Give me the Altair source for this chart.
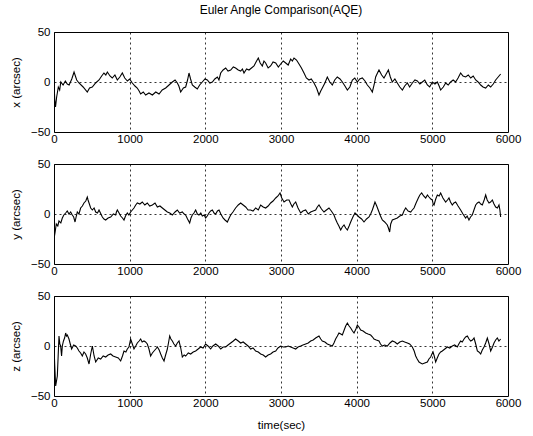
import altair as alt
import pandas as pd

title_text = "Euler Angle Comparison(AQE)"
x_ticks = [0, 1000, 2000, 3000, 4000, 5000, 6000]
y_ticks = [-50, 0, 50]
panel_names = ["x (arcsec)", "y (arcsec)", "z (arcsec)"]

x_samples = [
    (0, 0), (10, -18), (20, -25), (35, -15), (57, -5), (75, -8), (90, 0), (120, -3), (150, 1), (175, -2),
    (200, -3), (235, 3), (265, 10), (300, 2), (330, -1), (385, -5), (440, -10), (470, -6), (506, -5), (550, -1),
    (595, 2), (630, 6), (660, 9), (685, 7), (705, 10), (740, 6), (770, 4), (805, 7), (837, 2), (870, 5),
    (903, 9), (935, 4), (970, 1), (1000, 3), (1035, -1), (1070, -4), (1100, -6), (1125, -9), (1145, -12), (1180, -10),
    (1211, -13), (1255, -11), (1300, -13), (1345, -10), (1388, -12), (1430, -8), (1476, -6), (1520, -3), (1564, 0), (1600, 2),
    (1630, -1), (1650, -4), (1674, -10), (1710, -6), (1740, -5), (1765, 2), (1784, 9), (1805, 3), (1828, -3), (1860, -5),
    (1894, -7), (1925, -3), (1960, 0), (1995, 3), (2026, 2), (2060, -1), (2093, 0), (2125, 3), (2159, 5), (2180, 2),
    (2203, 9), (2235, 12), (2269, 14), (2300, 11), (2335, 12), (2370, 15), (2400, 14), (2435, 12), (2467, 11), (2490, 13),
    (2511, 9), (2545, 13), (2577, 12), (2610, 14), (2643, 16), (2670, 20), (2700, 24), (2725, 19), (2753, 16), (2775, 21),
    (2797, 19), (2830, 14), (2863, 16), (2895, 20), (2930, 19), (2965, 15), (2996, 18), (3030, 21), (3062, 19), (3095, 17),
    (3128, 23), (3150, 21), (3172, 24), (3205, 22), (3238, 18), (3270, 14), (3304, 9), (3335, 4), (3370, 2), (3400, 3),
    (3436, -1), (3470, -6), (3502, -13), (3525, -9), (3546, -6), (3580, -1), (3612, 5), (3645, 0), (3678, -3), (3710, 2),
    (3744, 5), (3780, 3), (3811, 0), (3845, -4), (3877, -8), (3910, -5), (3943, 2), (3975, 4), (4009, 0), (4040, 3),
    (4075, 4), (4110, 1), (4141, -3), (4175, -6), (4207, -10), (4230, -3), (4251, 5), (4275, 9), (4295, 12), (4330, 7),
    (4361, 4), (4390, 8), (4419, 12), (4445, 5), (4471, 0), (4505, 3), (4537, -1), (4570, -5), (4604, -8), (4635, -4),
    (4670, -1), (4700, -5), (4736, -1), (4770, 2), (4802, 1), (4835, -2), (4868, 0), (4900, 2), (4934, -3), (4965, -5),
    (5000, 0), (5035, -2), (5066, 0), (5090, -4), (5110, -8), (5145, -5), (5176, -1), (5210, -3), (5242, 0), (5275, 2),
    (5308, 0), (5340, 4), (5374, 9), (5405, 6), (5440, 5), (5475, 7), (5507, 4), (5540, 6), (5573, 2), (5605, 0),
    (5639, -3), (5670, -5), (5705, -6), (5740, -3), (5771, -5), (5805, -2), (5837, 2), (5870, 5), (5903, 8),
]

y_samples = [
    (0, -25), (15, -18), (30, -10), (50, -12), (66, -7), (90, -9), (110, -4), (130, -1), (154, 1), (175, 3),
    (198, 0), (220, 2), (242, -1), (260, -3), (278, -8), (295, -2), (308, 2), (330, 0), (352, 6), (375, 8),
    (396, 11), (420, 13), (440, 17), (450, 14), (463, 11), (485, 6), (507, 4), (530, 6), (551, 2), (575, 1),
    (595, 4), (620, 0), (639, -3), (660, -5), (683, -6), (715, -4), (749, -3), (785, 0), (815, -1), (825, 2),
    (837, 4), (860, 1), (881, -2), (905, -4), (925, -6), (945, -2), (969, 1), (990, -1), (1013, 2), (1035, 4),
    (1057, 6), (1080, 9), (1101, 11), (1135, 10), (1167, 12), (1200, 9), (1233, 11), (1265, 8), (1300, 9), (1335, 11),
    (1366, 7), (1400, 8), (1432, 6), (1465, 4), (1498, 2), (1530, 1), (1564, -1), (1600, 2), (1630, 4), (1660, 1),
    (1696, 2), (1720, 0), (1740, -1), (1765, -5), (1793, -9), (1810, -4), (1828, -1), (1850, 1), (1872, 4), (1895, 0),
    (1916, -1), (1940, 1), (1960, -2), (1985, -1), (2004, -4), (2025, -2), (2048, 1), (2070, 3), (2093, 4), (2115, 1),
    (2137, 0), (2160, 3), (2181, 4), (2205, 0), (2234, -4), (2260, -6), (2291, -8), (2315, -4), (2335, -1), (2365, 2),
    (2400, 6), (2435, 9), (2467, 11), (2500, 9), (2533, 7), (2565, 4), (2599, 4), (2630, 3), (2665, 6), (2700, 4),
    (2731, 9), (2765, 7), (2797, 6), (2830, 8), (2863, 11), (2895, 13), (2930, 16), (2960, 18), (2987, 21), (3010, 16),
    (3040, 12), (3075, 14), (3106, 14), (3130, 10), (3150, 7), (3170, 10), (3194, 12), (3225, 6), (3260, 1), (3290, 3),
    (3326, 4), (3360, 0), (3392, 2), (3425, 3), (3458, 4), (3480, 7), (3502, 9), (3535, 5), (3568, 2), (3600, 4),
    (3634, 6), (3665, 3), (3700, -1), (3720, -5), (3744, -9), (3765, -12), (3789, -16), (3810, -13), (3833, -11), (3855, -14),
    (3877, -16), (3900, -12), (3921, -8), (3950, -3), (3978, 1), (4005, -1), (4031, -3), (4065, -5), (4097, -8), (4130, -5),
    (4163, -3), (4185, 0), (4207, 4), (4225, 8), (4242, 12), (4265, 8), (4295, 2), (4315, -2), (4339, -6), (4370, -8),
    (4405, -11), (4420, -14), (4436, -18), (4450, -10), (4471, -6), (4505, -5), (4537, -4), (4570, -2), (4604, -1), (4625, 3),
    (4648, 6), (4680, 3), (4714, 2), (4735, 4), (4758, 6), (4785, 11), (4815, 16), (4835, 19), (4859, 21), (4885, 18),
    (4912, 16), (4935, 19), (4956, 17), (4980, 15), (5000, 14), (5011, 10), (5022, 9), (5045, 15), (5066, 19), (5090, 18),
    (5110, 21), (5140, 16), (5176, 12), (5200, 14), (5220, 16), (5240, 12), (5264, 9), (5285, 11), (5308, 12), (5340, 8),
    (5374, 4), (5405, 0), (5440, -4), (5460, -2), (5484, -6), (5505, -3), (5528, -1), (5550, 4), (5573, 9), (5595, 11),
    (5617, 12), (5640, 10), (5661, 9), (5685, 14), (5705, 19), (5725, 14), (5749, 11), (5770, 12), (5793, 14), (5815, 10),
    (5837, 7), (5860, 6), (5881, 9), (5893, 4), (5903, -3),
]

z_samples = [
    (0, 0), (10, -20), (22, -40), (33, -35), (44, -30), (55, -10), (66, 10), (77, 2), (88, 0), (100, -10),
    (110, 0), (125, 5), (140, 8), (154, 13), (165, 10), (176, 11), (187, 9), (198, 7), (215, 2), (233, -3),
    (260, 1), (286, 0), (308, -2), (330, -5), (352, -7), (374, -10), (396, -6), (418, -8), (440, -12), (463, -18),
    (485, -8), (507, 0), (530, -10), (551, -16), (585, -12), (617, -13), (650, -10), (683, -11), (715, -9), (749, -8),
    (780, -10), (815, -11), (850, -12), (881, -15), (905, -10), (925, -5), (950, -6), (969, -3), (990, -1), (1013, 7),
    (1035, 2), (1057, -3), (1080, 0), (1101, 3), (1125, 5), (1145, 7), (1165, 4), (1189, 5), (1210, 4), (1233, 2),
    (1255, -3), (1277, -10), (1300, -7), (1322, -5), (1345, -3), (1366, -1), (1390, -4), (1410, -8), (1432, -12), (1454, -15),
    (1475, -9), (1498, -3), (1515, 4), (1529, 10), (1545, 7), (1564, 5), (1585, 2), (1608, 0), (1630, 3), (1652, 5),
    (1675, -2), (1696, -11), (1720, -9), (1740, -10), (1775, -7), (1806, -8), (1840, -6), (1872, -5), (1905, -3), (1938, -1),
    (1970, -2), (2004, 2), (2035, 0), (2070, -3), (2100, 0), (2137, 2), (2170, 0), (2203, -3), (2235, -1), (2269, -1),
    (2300, 1), (2335, 3), (2370, 5), (2400, 7), (2435, 5), (2467, 3), (2500, 4), (2533, 2), (2565, 0), (2599, -3),
    (2630, -2), (2665, -5), (2700, -6), (2731, -8), (2765, -9), (2797, -11), (2830, -9), (2863, -8), (2895, -6), (2930, -5),
    (2960, -2), (2996, 0), (3030, -1), (3062, -1), (3095, 0), (3128, -1), (3160, -2), (3194, -3), (3225, -1), (3260, 0),
    (3290, 1), (3326, 2), (3360, 3), (3392, 5), (3425, 6), (3458, 8), (3480, 9), (3502, 10), (3525, 7), (3546, 5),
    (3580, 4), (3612, 2), (3645, 1), (3678, 0), (3700, 3), (3722, 7), (3745, 10), (3766, 13), (3790, 12), (3811, 11),
    (3835, 16), (3855, 20), (3877, 23), (3900, 20), (3921, 18), (3945, 15), (3965, 13), (3990, 17), (4009, 21), (4030, 19),
    (4053, 16), (4085, 15), (4119, 13), (4150, 12), (4185, 11), (4210, 9), (4229, 7), (4260, 6), (4295, 5), (4315, 2),
    (4339, 0), (4370, 1), (4405, 0), (4440, 3), (4471, 5), (4505, 4), (4537, 2), (4570, 4), (4604, 5), (4635, 4),
    (4670, 3), (4700, 2), (4736, -1), (4760, -5), (4780, -10), (4800, -13), (4824, -16), (4845, -17), (4868, -18), (4900, -17),
    (4934, -16), (4955, -13), (4978, -11), (4995, -8), (5009, -6), (5025, -10), (5044, -16), (5065, -12), (5088, -8), (5110, -6),
    (5132, -5), (5165, -3), (5198, -1), (5230, -2), (5264, 0), (5295, 1), (5330, -1), (5350, 2), (5374, 5), (5395, 4),
    (5419, 7), (5440, 9), (5463, 10), (5485, 7), (5507, 5), (5530, 6), (5551, 8), (5573, 2), (5595, -5), (5615, -6),
    (5639, -8), (5660, -4), (5683, -1), (5705, 3), (5727, 8), (5750, 2), (5771, -5), (5795, -1), (5815, 3), (5837, 6),
    (5859, 8), (5880, 5), (5903, 7),
]

FONT = "Liberation Sans"
W, H = 454, 100


def panel(samples, ytitle, show_xtitle=False, title=None):
    df = pd.DataFrame(samples, columns=["t", "v"])
    x_axis = alt.Axis(
        values=x_ticks, format="d", grid=True, gridDash=[2, 3], gridColor="black",
        gridOpacity=1, gridWidth=0.8, ticks=False, domain=False, labelPadding=1,
        labelFlush=False, title="time(sec)" if show_xtitle else None, titlePadding=11,
    )
    y_axis = alt.Axis(
        values=y_ticks, format="d", grid=True, gridDash=[2, 3], gridColor="black",
        gridOpacity=1, gridWidth=0.8, ticks=False, domain=False, labelPadding=4,
        labelFlush=False, title=ytitle, titlePadding=9,
    )
    ch = alt.Chart(df).mark_line(color="black", strokeWidth=1.1, clip=True).encode(
        x=alt.X("t:Q", scale=alt.Scale(domain=[0, 6000], nice=False, zero=False), axis=x_axis),
        y=alt.Y("v:Q", scale=alt.Scale(domain=[-50, 50], nice=False), axis=y_axis),
    )
    props = dict(width=W, height=H)
    if title:
        props["title"] = alt.TitleParams(title, fontSize=12, fontWeight="normal", font=FONT,
                                         anchor="middle", frame="group", offset=9, color="black")
    return ch.properties(**props)


chart = alt.vconcat(
    panel(x_samples, panel_names[0], title=title_text),
    panel(y_samples, panel_names[1]),
    panel(z_samples, panel_names[2], show_xtitle=True),
    spacing=32,
    bounds="flush",
).properties(
    padding={"left": 9, "top": 3, "right": 5, "bottom": 5},
    background="white",
).configure_view(
    stroke="black", strokeWidth=1
).configure_axis(
    labelFont=FONT, titleFont=FONT, labelFontSize=11.5, titleFontSize=11.5,
    labelColor="black", titleColor="black", titleFontWeight="normal",
)

chart.save("out.html", embed_options={"renderer": "svg", "actions": False})
